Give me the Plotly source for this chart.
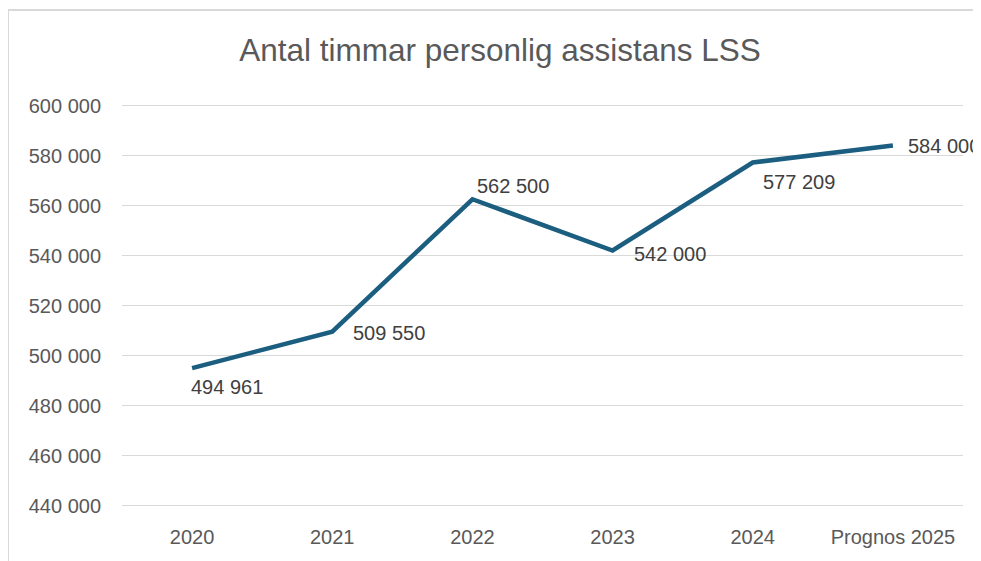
import plotly.graph_objects as go

categories = ["2020", "2021", "2022", "2023", "2024", "Prognos 2025"]
values = [494961, 509550, 562500, 542000, 577209, 584000]
title_text = "Antal timmar personlig assistans LSS"

# label placement offsets (pixels) per point
label_xshift = [-3, 19, 3, 19, 8, 13]
label_yshift = [-19, -1, 13, -3, -20, 0]

LINE_COLOR = "#1B5E80"
TEXT_COLOR = "#595959"
FONT = "Liberation Sans, Arial, sans-serif"

W, H = 973, 553
L, R, T, B = 114, 18, 95, 53
PW, PH = W - L - R, H - T - B

fig = go.Figure()
fig.add_trace(go.Scatter(
    x=categories, y=values, mode="lines",
    line=dict(color=LINE_COLOR, width=4.5),
    hoverinfo="x+y", showlegend=False,
))

for i, (v, dx, dy) in enumerate(zip(values, label_xshift, label_yshift)):
    fig.add_annotation(
        x=i, y=v, xref="x", yref="y", text=f"{v:,}".replace(",", " "),
        showarrow=False, xanchor="left", yanchor="middle",
        xshift=dx, yshift=dy,
        font=dict(family=FONT, size=20, color="#404040"),
    )

# chart-area frame (Excel-like, partially visible)
fx0 = (0 - L) / PW
fx1 = (W + 20 - L) / PW
fy_top = (H - B - 2) / PH
fy_bot = (H - B - H - 20) / PH
fig.add_shape(type="line", xref="paper", yref="paper",
              x0=fx0, x1=fx1, y0=fy_top, y1=fy_top,
              line=dict(color="#D9D9D9", width=2))
fig.add_shape(type="line", xref="paper", yref="paper",
              x0=fx0, x1=fx0, y0=fy_top, y1=fy_bot,
              line=dict(color="#D9D9D9", width=2))

fig.update_layout(
    width=W, height=H,
    margin=dict(l=L, r=R, t=T, b=B),
    paper_bgcolor="white", plot_bgcolor="white",
    separators=", ",
    title=dict(text=title_text, x=492 / W, xanchor="center",
               y=1 - 42 / H, yanchor="middle", yref="container",
               font=dict(family=FONT, size=31.5, color=TEXT_COLOR)),
    xaxis=dict(
        type="category", range=[-0.5, 5.5], showgrid=False,
        showline=False, zeroline=False, ticks="",
        ticklabelstandoff=15,
        tickfont=dict(family=FONT, size=20, color=TEXT_COLOR),
    ),
    yaxis=dict(
        range=[439000, 601000], tick0=440000, dtick=20000, tickformat=",d",
        showgrid=True, gridcolor="#D9D9D9", gridwidth=1.3,
        zeroline=False, showline=False, ticks="",
        ticklabelstandoff=20,
        tickfont=dict(family=FONT, size=20, color=TEXT_COLOR),
    ),
)

fig.write_html("out.html")
